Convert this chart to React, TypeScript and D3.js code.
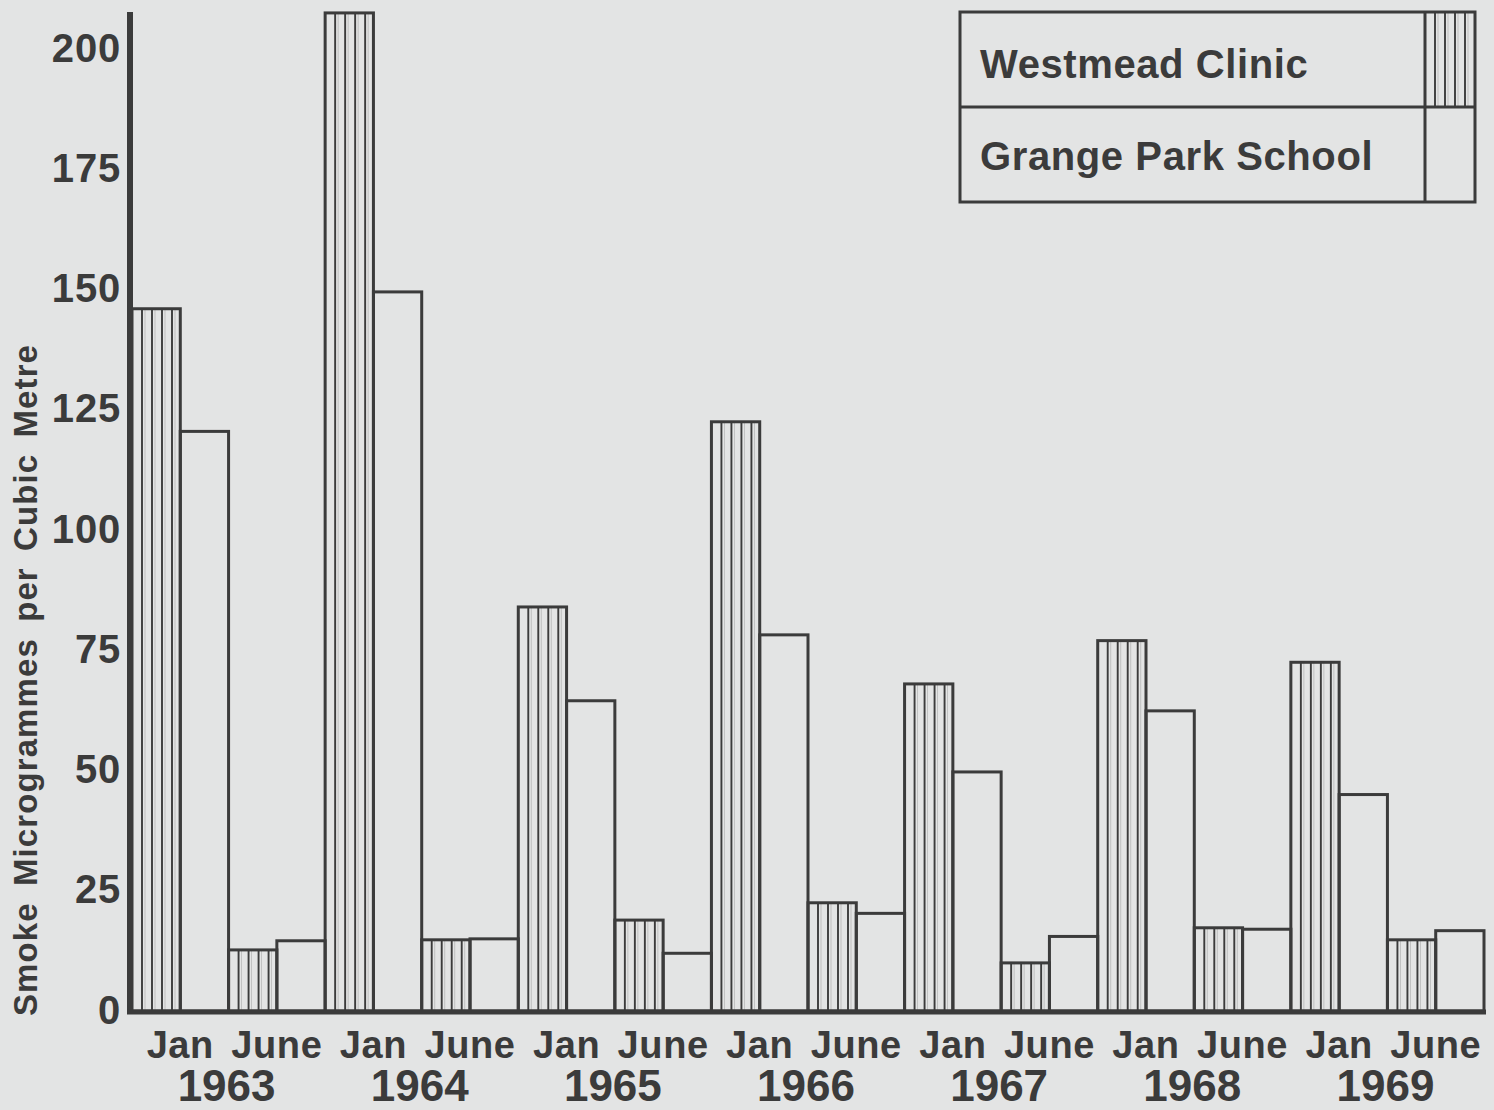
import React from 'react';
import * as d3 from 'd3';

const years = ['1963', '1964', '1965', '1966', '1967', '1968', '1969'];
const months = ['Jan', 'June'];
// values per (year, month) in order: 1963 Jan, 1963 June, 1964 Jan, ...
const westmead = [146, 12.7, 207.5, 14.8, 84, 18.9, 122.5, 22.5, 68, 10, 77, 17.3, 72.5, 14.8];
const grange = [120.5, 14.6, 149.5, 15, 64.5, 12, 78.2, 20.3, 49.7, 15.5, 62.4, 17, 45, 16.7];
const yTicks = [0, 25, 50, 75, 100, 125, 150, 175, 200];
const seriesNames = ['Westmead Clinic', 'Grange Park School'];
const yTitle = 'Smoke Microgrammes per Cubic Metre';

const W = 1494;
const H = 1110;
const BG = '#e3e4e4';
const INK = '#3b3b3b';
const FONT = '"Liberation Sans", Arial, Helvetica, sans-serif';

export default function App() {
  const periods = years.flatMap((yr) => months.map((m) => `${yr}-${m}`));
  const x = d3.scaleBand<string>().domain(periods).range([132, 1484]).padding(0);
  const xSub = d3.scaleBand<string>().domain(['w', 'g']).range([0, x.bandwidth()]).padding(0);
  const yearX = d3.scaleBand<string>().domain(years).range([132, 1484]).padding(0);
  const y = d3.scaleLinear().domain([0, 200]).range([1011, 49]);
  const bw = xSub.bandwidth();
  const hatchOffsets = [10, 20, 30, 40];

  const hatch = (x0: number, y0: number, y1: number) =>
    hatchOffsets.map((o) => (
      <g key={o}>
        <line x1={x0 + o} x2={x0 + o} y1={y0} y2={y1} stroke={INK} strokeWidth={1.9} />
        <line x1={x0 + o + 3} x2={x0 + o + 3} y1={y0} y2={y1} stroke={INK} strokeWidth={0.7} opacity={0.3} />
      </g>
    ));

  const bars: React.ReactNode[] = [];
  periods.forEach((p, i) => {
    const x0 = x(p)!;
    const xw = x0 + xSub('w')!;
    const xg = x0 + xSub('g')!;
    const yw = y(westmead[i]);
    const yg = y(grange[i]);
    bars.push(
      <g key={p}>
        {hatch(xw, yw, y(0))}
        <rect x={xw} y={yw} width={bw} height={y(0) - yw} fill="none" stroke={INK} strokeWidth={3} />
        <rect x={xg} y={yg} width={bw} height={y(0) - yg} fill="none" stroke={INK} strokeWidth={3} />
      </g>
    );
  });

  const lgX = 960, lgY = 12, lgW = 515, lgH = 190, swW = 50;
  const lgMid = lgY + lgH / 2;

  return (
    <div style={{ position: 'absolute', left: 0, top: 0 }}>
      <svg width={W} height={H} style={{ display: 'block', background: BG }}>
        <rect x={0} y={0} width={W} height={H} fill={BG} />
        {bars}
        {/* axes */}
        <line x1={130} x2={130} y1={12} y2={1014} stroke={INK} strokeWidth={6} />
        <line x1={127} x2={1486} y1={1012} y2={1012} stroke={INK} strokeWidth={5} />
        {yTicks.map((t) => (
          <text key={t} x={121} y={y(t) + 2} textAnchor="end" dominantBaseline="middle"
            fontFamily={FONT} fontWeight={700} fontSize={40} letterSpacing={0.8} fill={INK}>{t}</text>
        ))}
        {periods.map((p, i) => (
          <text key={p} x={x(p)! + x.bandwidth() / 2} y={1058} textAnchor="middle"
            fontFamily={FONT} fontWeight={700} fontSize={38} letterSpacing={0.6} fill={INK}>{months[i % 2]}</text>
        ))}
        {years.map((yr) => (
          <text key={yr} x={yearX(yr)! + yearX.bandwidth() / 2 - 2} y={1101} textAnchor="middle"
            fontFamily={FONT} fontWeight={700} fontSize={44} fill={INK}>{yr}</text>
        ))}
        <text transform={`translate(37, 680) rotate(-90)`} textAnchor="middle"
          fontFamily={FONT} fontWeight={700} fontSize={33} fill={INK} wordSpacing={6} letterSpacing={1.1}>{yTitle}</text>
        {/* legend */}
        <rect x={lgX} y={lgY} width={lgW} height={lgH} fill="none" stroke={INK} strokeWidth={3} />
        <line x1={lgX} x2={lgX + lgW} y1={lgMid} y2={lgMid} stroke={INK} strokeWidth={3} />
        <line x1={lgX + lgW - swW} x2={lgX + lgW - swW} y1={lgY} y2={lgY + lgH} stroke={INK} strokeWidth={3} />
        {hatch(lgX + lgW - swW, lgY, lgMid)}
        {seriesNames.map((s, i) => (
          <text key={s} x={lgX + 20} y={lgY + 66 + i * 92}
            fontFamily={FONT} fontWeight={700} fontSize={40} letterSpacing={0.6} fill={INK}>{s}</text>
        ))}
      </svg>
    </div>
  );
}
